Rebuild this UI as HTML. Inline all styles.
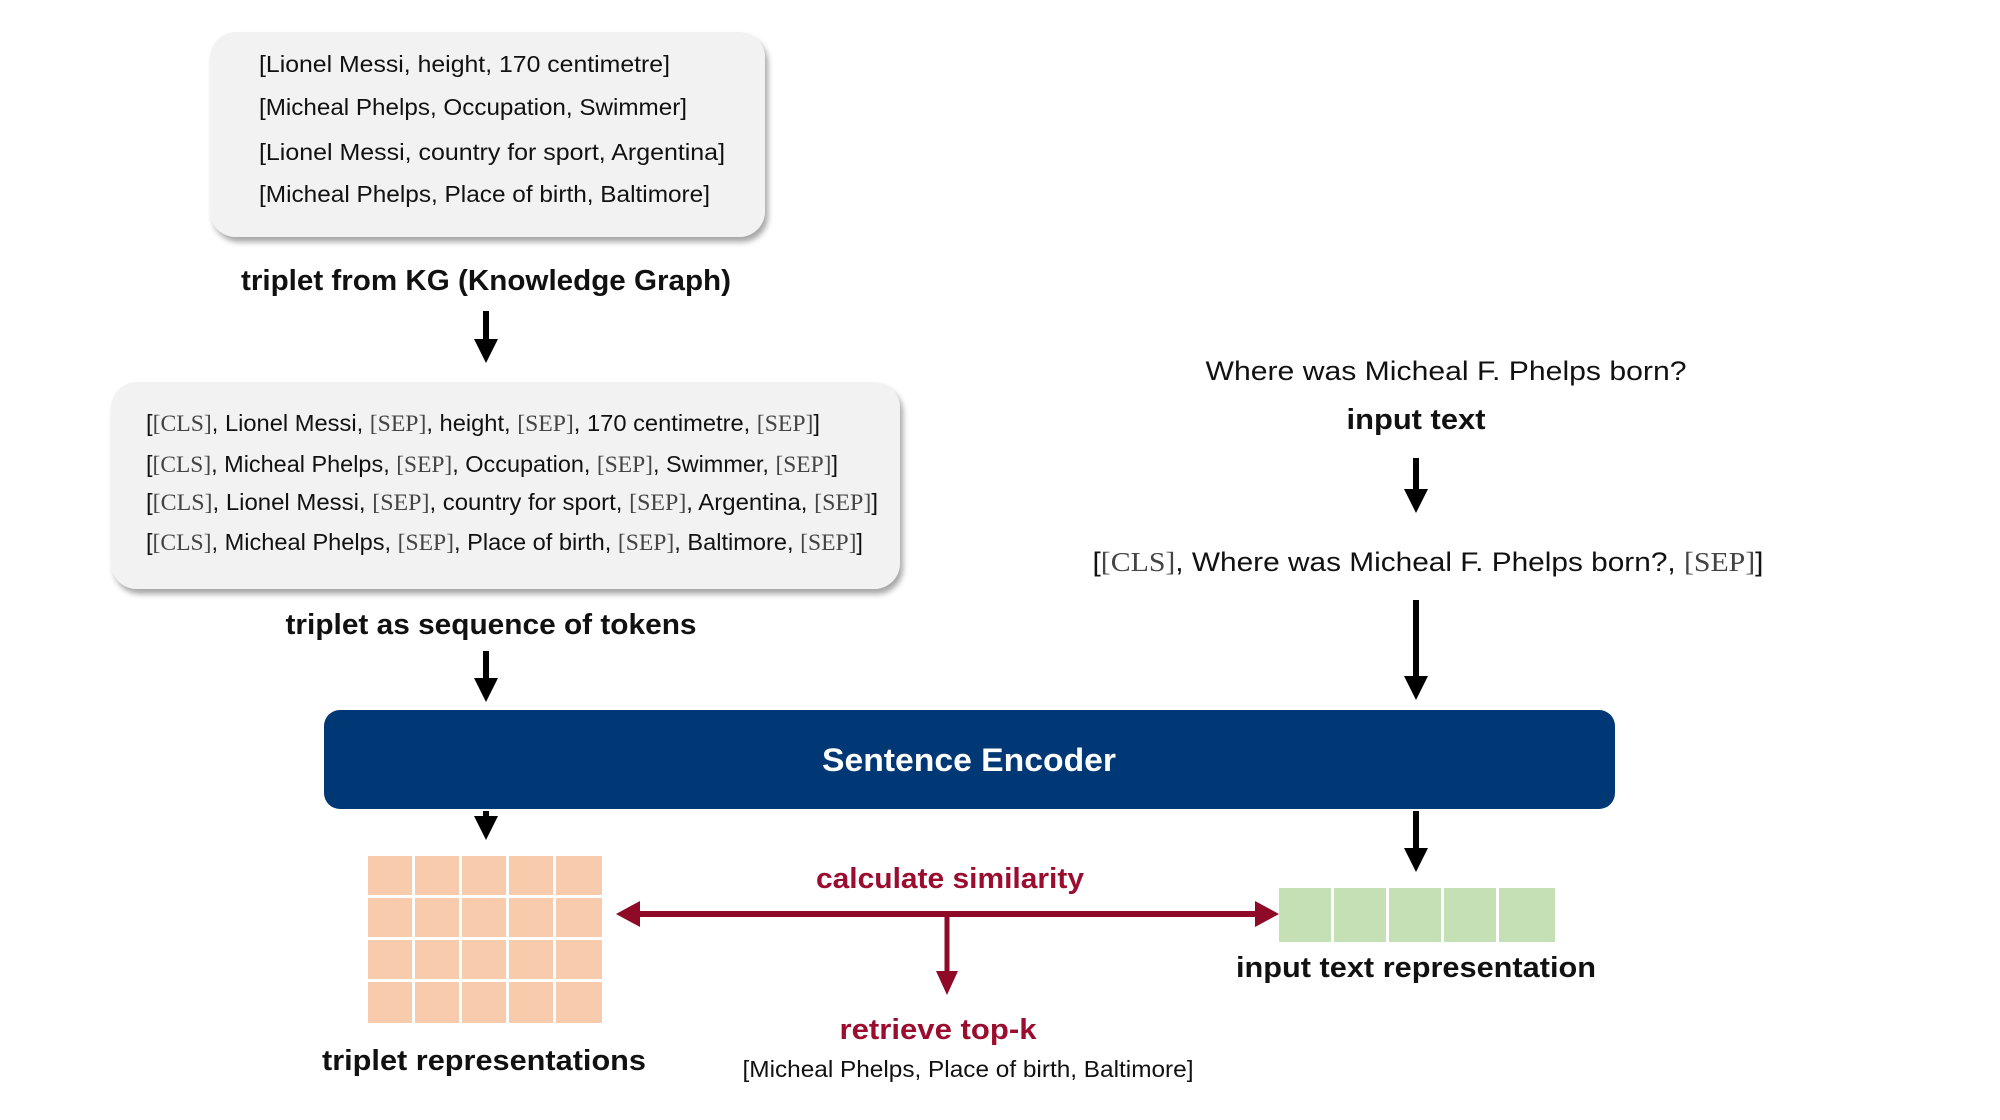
<!DOCTYPE html>
<html><head><meta charset="utf-8"><style>
html,body{margin:0;padding:0;background:#fff;width:2000px;height:1120px;overflow:hidden}
svg{display:block}
text{font-family:"Liberation Sans",sans-serif}
.s{font-family:"Liberation Serif",serif;fill:#444}
</style></head><body>
<svg width="2000" height="1120" viewBox="0 0 2000 1120" xmlns="http://www.w3.org/2000/svg">
<defs>
<filter id="sh" x="-10%" y="-10%" width="125%" height="130%"><feDropShadow dx="3" dy="5" stdDeviation="3" flood-color="#000" flood-opacity="0.35"/></filter>
<marker id="ak" markerWidth="4" markerHeight="4" refX="2" refY="2" orient="auto" markerUnits="strokeWidth"><path d="M0,0 L4,2 L0,4 z" fill="#000"/></marker>
</defs>
<g transform="translate(-4,-3)">
<rect x="214" y="35" width="555" height="205" rx="26" fill="#f2f2f2" filter="url(#sh)"/>
<g font-size="23" fill="#111">
<text x="263" y="75" textLength="411" lengthAdjust="spacingAndGlyphs">[Lionel Messi, height, 170 centimetre]</text>
<text x="263" y="118" textLength="428" lengthAdjust="spacingAndGlyphs">[Micheal Phelps, Occupation, Swimmer]</text>
<text x="263" y="163" textLength="466" lengthAdjust="spacingAndGlyphs">[Lionel Messi, country for sport, Argentina]</text>
<text x="263" y="205" textLength="451" lengthAdjust="spacingAndGlyphs">[Micheal Phelps, Place of birth, Baltimore]</text>
</g>
<text x="490" y="293" font-size="29" font-weight="bold" text-anchor="middle" textLength="490" lengthAdjust="spacingAndGlyphs" fill="#111">triplet from KG (Knowledge Graph)</text>
<line x1="490" y1="314" x2="490" y2="354" stroke="#000" stroke-width="6" marker-end="url(#ak)"/>
<rect x="115" y="385" width="789" height="207" rx="26" fill="#f2f2f2" filter="url(#sh)"/>
<g font-size="23" fill="#111">
<text x="150" y="434" textLength="674" lengthAdjust="spacingAndGlyphs">[<tspan class="s">[CLS]</tspan>, Lionel Messi, <tspan class="s">[SEP]</tspan>, height, <tspan class="s">[SEP]</tspan>, 170 centimetre, <tspan class="s">[SEP]</tspan>]</text>
<text x="150" y="475" textLength="692" lengthAdjust="spacingAndGlyphs">[<tspan class="s">[CLS]</tspan>, Micheal Phelps, <tspan class="s">[SEP]</tspan>, Occupation, <tspan class="s">[SEP]</tspan>, Swimmer, <tspan class="s">[SEP]</tspan>]</text>
<text x="150" y="513" textLength="732" lengthAdjust="spacingAndGlyphs">[<tspan class="s">[CLS]</tspan>, Lionel Messi, <tspan class="s">[SEP]</tspan>, country for sport, <tspan class="s">[SEP]</tspan>, Argentina, <tspan class="s">[SEP]</tspan>]</text>
<text x="150" y="553" textLength="717" lengthAdjust="spacingAndGlyphs">[<tspan class="s">[CLS]</tspan>, Micheal Phelps, <tspan class="s">[SEP]</tspan>, Place of birth, <tspan class="s">[SEP]</tspan>, Baltimore, <tspan class="s">[SEP]</tspan>]</text>
</g>
<text x="495" y="637" font-size="29" font-weight="bold" text-anchor="middle" textLength="411" lengthAdjust="spacingAndGlyphs" fill="#111">triplet as sequence of tokens</text>
<line x1="490" y1="654" x2="490" y2="693" stroke="#000" stroke-width="6" marker-end="url(#ak)"/>
<rect x="328" y="713" width="1291" height="99" rx="16" fill="#003876"/>
<text x="973" y="774" font-size="32" font-weight="bold" text-anchor="middle" textLength="294" lengthAdjust="spacingAndGlyphs" fill="#fff">Sentence Encoder</text>
<line x1="490" y1="814" x2="490" y2="831" stroke="#000" stroke-width="6" marker-end="url(#ak)"/>
<g fill="#f8cbad">
<rect x="372" y="859" width="44" height="39"/><rect x="419" y="859" width="44" height="39"/><rect x="466" y="859" width="44" height="39"/><rect x="513" y="859" width="44" height="39"/><rect x="560" y="859" width="46" height="39"/>
<rect x="372" y="901" width="44" height="39"/><rect x="419" y="901" width="44" height="39"/><rect x="466" y="901" width="44" height="39"/><rect x="513" y="901" width="44" height="39"/><rect x="560" y="901" width="46" height="39"/>
<rect x="372" y="943" width="44" height="39"/><rect x="419" y="943" width="44" height="39"/><rect x="466" y="943" width="44" height="39"/><rect x="513" y="943" width="44" height="39"/><rect x="560" y="943" width="46" height="39"/>
<rect x="372" y="985" width="44" height="41"/><rect x="419" y="985" width="44" height="41"/><rect x="466" y="985" width="44" height="41"/><rect x="513" y="985" width="44" height="41"/><rect x="560" y="985" width="46" height="41"/>
</g>
<text x="488" y="1073" font-size="29" font-weight="bold" text-anchor="middle" textLength="324" lengthAdjust="spacingAndGlyphs" fill="#111">triplet representations</text>
<text x="1450" y="383" font-size="27" text-anchor="middle" textLength="481" lengthAdjust="spacingAndGlyphs" fill="#111">Where was Micheal F. Phelps born?</text>
<text x="1420" y="432" font-size="29" font-weight="bold" text-anchor="middle" textLength="139" lengthAdjust="spacingAndGlyphs" fill="#111">input text</text>
<line x1="1420" y1="461" x2="1420" y2="504" stroke="#000" stroke-width="6" marker-end="url(#ak)"/>
<text x="1432" y="574" font-size="27" text-anchor="middle" textLength="671" lengthAdjust="spacingAndGlyphs" fill="#111">[<tspan class="s">[CLS]</tspan>, Where was Micheal F. Phelps born?, <tspan class="s">[SEP]</tspan>]</text>
<line x1="1420" y1="603" x2="1420" y2="691" stroke="#000" stroke-width="6" marker-end="url(#ak)"/>
<line x1="1420" y1="814" x2="1420" y2="863" stroke="#000" stroke-width="6" marker-end="url(#ak)"/>
<g fill="#c5e0b4">
<rect x="1283" y="891" width="52" height="54"/><rect x="1338" y="891" width="52" height="54"/><rect x="1393" y="891" width="52" height="54"/><rect x="1448" y="891" width="52" height="54"/><rect x="1503" y="891" width="56" height="54"/>
</g>
<text x="1420" y="980" font-size="29" font-weight="bold" text-anchor="middle" textLength="360" lengthAdjust="spacingAndGlyphs" fill="#111">input text representation</text>
<text x="954" y="891" font-size="29" font-weight="bold" text-anchor="middle" textLength="268" lengthAdjust="spacingAndGlyphs" fill="#9b0d2e">calculate similarity</text>
<line x1="640" y1="917" x2="1262" y2="917" stroke="#8e0a27" stroke-width="6"/>
<path d="M620,917 L644,904 L644,930 z" fill="#8e0a27"/>
<path d="M1283,917 L1259,904 L1259,930 z" fill="#8e0a27"/>
<line x1="951" y1="917" x2="951" y2="977" stroke="#8e0a27" stroke-width="5"/>
<path d="M951,998 L940,974 L962,974 z" fill="#8e0a27"/>
<text x="942" y="1042" font-size="29" font-weight="bold" text-anchor="middle" textLength="197" lengthAdjust="spacingAndGlyphs" fill="#9b0d2e">retrieve top-k</text>
<text x="972" y="1080" font-size="23" text-anchor="middle" textLength="451" lengthAdjust="spacingAndGlyphs" fill="#111">[Micheal Phelps, Place of birth, Baltimore]</text>
</g>
</svg>
</body></html>
